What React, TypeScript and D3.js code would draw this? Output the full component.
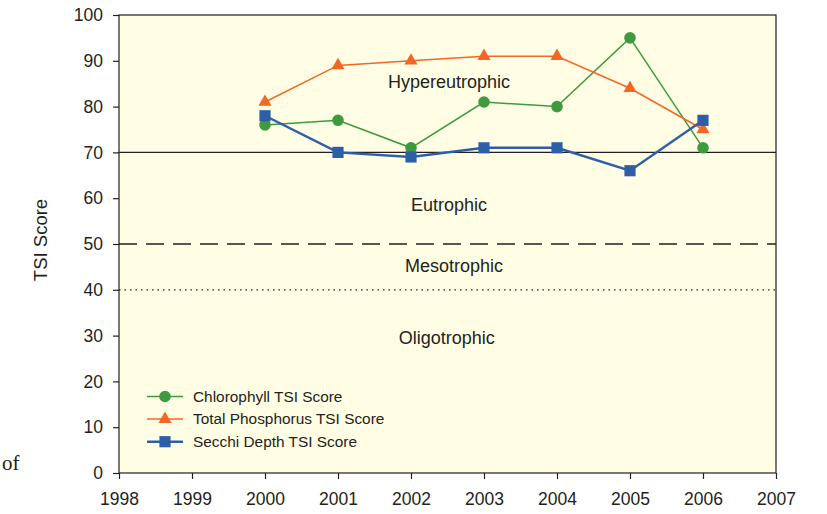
import { useEffect, useRef } from "react";
import * as d3 from "d3";

const years = [2000, 2001, 2002, 2003, 2004, 2005, 2006];
const chlorophyll = [76, 77, 71, 81, 80, 95, 71];
const phosphorus = [81, 89, 90, 91, 91, 84, 75];
const secchi = [78, 70, 69, 71, 71, 66, 77];

const xTicks = [1998, 1999, 2000, 2001, 2002, 2003, 2004, 2005, 2006, 2007];
const yTicks = [0, 10, 20, 30, 40, 50, 60, 70, 80, 90, 100];

const zones = [
  { label: "Hypereutrophic", y: 84, x: 2002.52 },
  { label: "Eutrophic", y: 57.2, x: 2002.52 },
  { label: "Mesotrophic", y: 43.9, x: 2002.59 },
  { label: "Oligotrophic", y: 28.2, x: 2002.49 },
];

const series = [
  { name: "Chlorophyll TSI Score", values: chlorophyll, color: "#3d9a3f", shape: "circle" },
  { name: "Total Phosphorus TSI Score", values: phosphorus, color: "#f26726", shape: "triangle" },
  { name: "Secchi Depth TSI Score", values: secchi, color: "#2f5ea8", shape: "square" },
];

const W = 827;
const H = 514;

export default function App() {
  const svgRef = useRef<SVGSVGElement>(null);

  useEffect(() => {
    if (!svgRef.current) return;
    const svg = d3.select(svgRef.current);
    svg.selectAll("*").remove();

    const left = 119, right = 776, top = 15, bottom = 473;
    const x = d3.scaleLinear().domain([1998, 2007]).range([left, right]);
    const y = d3.scaleLinear().domain([0, 100]).range([bottom, top]);
    const font = "'Liberation Sans', Arial, sans-serif";
    const ink = "#231f20";

    svg.append("rect").attr("width", W).attr("height", H).attr("fill", "#fff");

    svg
      .append("rect")
      .attr("x", left)
      .attr("y", top)
      .attr("width", right - left)
      .attr("height", bottom - top)
      .attr("fill", "#fffde4")
      .attr("stroke", ink)
      .attr("stroke-width", 1.2);

    // trophic boundaries
    svg.append("line")
      .attr("x1", left).attr("x2", right)
      .attr("y1", y(70)).attr("y2", y(70))
      .attr("stroke", ink).attr("stroke-width", 1.2);
    svg.append("line")
      .attr("x1", left).attr("x2", right)
      .attr("y1", y(50)).attr("y2", y(50))
      .attr("stroke", ink).attr("stroke-width", 1.5)
      .attr("stroke-dasharray", "18,9");
    svg.append("line")
      .attr("x1", left).attr("x2", right)
      .attr("y1", y(40)).attr("y2", y(40))
      .attr("stroke", ink).attr("stroke-width", 1.2)
      .attr("stroke-dasharray", "1.5,4");

    svg.append("g")
      .selectAll("text")
      .data(zones)
      .join("text")
      .attr("x", (d) => x(d.x))
      .attr("y", (d) => y(d.y))
      .attr("text-anchor", "middle")
      .attr("font-family", font)
      .attr("font-size", 18)
      .attr("fill", ink)
      .text((d) => d.label);

    // axes
    const yAxis = svg.append("g").attr("transform", `translate(${left},0)`)
      .call(d3.axisLeft(y).tickValues(yTicks).tickSize(6).tickPadding(10));
    const xAxis = svg.append("g").attr("transform", `translate(0,${bottom})`)
      .call(d3.axisBottom(x).tickValues(xTicks).tickFormat(d3.format("d")).tickSize(6).tickPadding(14));
    for (const ax of [yAxis, xAxis]) {
      ax.select(".domain").remove();
      ax.selectAll("line").attr("stroke", ink).attr("stroke-width", 1.2);
      ax.selectAll("text").attr("font-family", font).attr("font-size", 17.5).attr("fill", ink);
    }

    svg.append("text")
      .attr("transform", `translate(47,240) rotate(-90)`)
      .attr("text-anchor", "middle")
      .attr("font-family", font)
      .attr("font-size", 18.5)
      .attr("fill", ink)
      .text("TSI Score");

    const symbolFor = (shape: string) =>
      shape === "circle"
        ? d3.symbol(d3.symbolCircle, 105)
        : shape === "triangle"
        ? d3.symbol(d3.symbolTriangle, 75)
        : d3.symbol(d3.symbolSquare, 125);

    const line = d3.line<number>()
      .x((_, i) => x(years[i]))
      .y((d) => y(d));

    for (const s of series) {
      const g = svg.append("g");
      g.append("path")
        .attr("d", line(s.values))
        .attr("fill", "none")
        .attr("stroke", s.color)
        .attr("stroke-width", s.shape === "square" ? 2.4 : 1.5);
      g.selectAll("path.m")
        .data(s.values)
        .join("path")
        .attr("class", "m")
        .attr("transform", (d, i) => `translate(${x(years[i])},${y(d)})`)
        .attr("d", symbolFor(s.shape)()!)
        .attr("fill", s.color);
    }

    // legend
    const legend = svg.append("g").attr("transform", "translate(147,396.5)");
    series.forEach((s, i) => {
      const row = legend.append("g").attr("transform", `translate(0,${i * 22.6})`);
      row.append("line").attr("x1", 0).attr("x2", 36).attr("stroke", s.color)
        .attr("stroke-width", s.shape === "square" ? 2.4 : 1.5);
      row.append("path")
        .attr("transform", `translate(18,0)`)
        .attr("d", symbolFor(s.shape)()!)
        .attr("fill", s.color);
      row.append("text")
        .attr("x", 46)
        .attr("dy", "0.35em")
        .attr("font-family", font)
        .attr("font-size", 15.4)
        .attr("fill", ink)
        .text(s.name);
    });

    // fragment of surrounding page text
    svg.append("text")
      .attr("x", 2).attr("y", 470)
      .attr("font-family", "'Liberation Serif', serif")
      .attr("font-size", 21)
      .attr("fill", ink)
      .text("of");
  }, []);

  return (
    <svg
      ref={svgRef}
      width={W}
      height={H}
      style={{ position: "absolute", left: 0, top: 0, display: "block" }}
    />
  );
}
